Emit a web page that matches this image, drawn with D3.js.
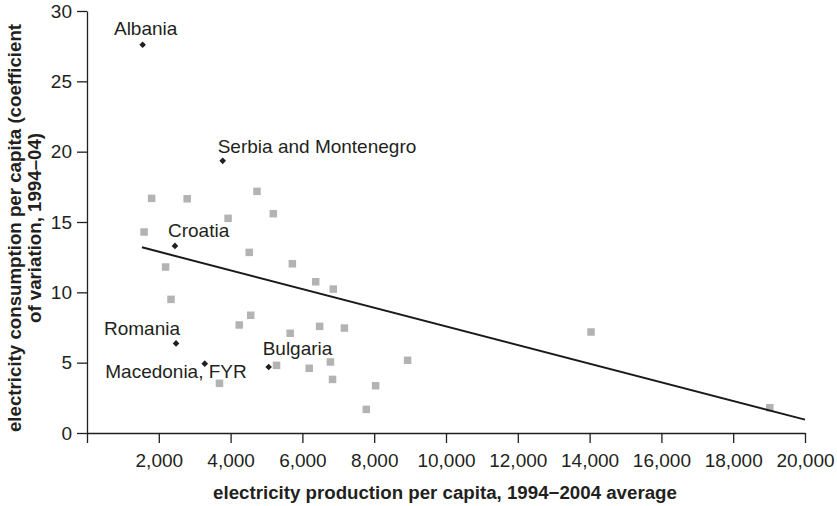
<!DOCTYPE html>
<html>
<head>
<meta charset="utf-8">
<script src="https://cdn.jsdelivr.net/npm/d3@7"></script>
<style>
  body { margin: 0; background: #fff; }
  svg { font-family: "Liberation Sans", Arial, Helvetica, sans-serif; }
  .axis path, .axis line { stroke: #231f20; stroke-width: 1.3; }
  .axis text { font-size: 19px; fill: #231f20; }
  .title { font-size: 18.7px; font-weight: bold; fill: #231f20; }
  .label { font-size: 19px; fill: #231f20; }
  .other { fill: #b3b3b3; }
  .named { fill: #231f20; }
  .trend { stroke: #1a1a1a; stroke-width: 2; fill: none; }
</style>
</head>
<body>
<svg id="chart" width="837" height="506"></svg>
<script>
// labelled countries: production per capita (kWh), consumption CV
var namedCountries = ["Albania", "Serbia and Montenegro", "Croatia", "Romania", "Macedonia, FYR", "Bulgaria"];
var namedProduction = [1550, 3780, 2450, 2480, 3280, 5060];
var namedVariation = [27.6, 19.35, 13.3, 6.37, 4.93, 4.69];

// the other (unlabelled) countries
var otherProduction = [1800, 2790, 4735, 3930, 5190, 1590, 4520, 5720, 6370, 6860,
                       2190, 2340, 4560, 4240, 5660, 6480, 7170, 5280, 6190, 6780,
                       6840, 3690, 8040, 7780, 8930, 14040, 19020];
var otherVariation = [16.68, 16.65, 17.18, 15.26, 15.59, 14.29, 12.84, 12.03, 10.75, 10.23,
                      11.80, 9.50, 8.37, 7.68, 7.09, 7.58, 7.46, 4.81, 4.60, 5.05,
                      3.81, 3.53, 3.36, 1.68, 5.17, 7.18, 1.80];

// fitted line end points
var trendProduction = [1530, 20000];
var trendVariation = [13.2, 0.95];

var xTicks = [0, 2000, 4000, 6000, 8000, 10000, 12000, 14000, 16000, 18000, 20000];
var yTicks = [0, 5, 10, 15, 20, 25, 30];

// where each country name sits relative to its marker
var labelPlacement = {
    "Albania": {dx: 3, dy: -10, anchor: "middle"},
    "Serbia and Montenegro": {dx: -5, dy: -8, anchor: "start"},
    "Croatia": {dx: -7, dy: -9, anchor: "start"},
    "Romania": {dx: 4, dy: -8, anchor: "end"},
    "Macedonia, FYR": {dx: 42, dy: 14, anchor: "end"},
    "Bulgaria": {dx: -6, dy: -12, anchor: "start"}
};

var svg = d3.select("#chart");

var x = d3.scaleLinear().domain([0, 20000]).range([87, 805]);
var y = d3.scaleLinear().domain([0, 30]).range([433, 11]);

// axes
svg.append("g")
    .attr("class", "axis")
    .attr("transform", "translate(0," + y(0) + ")")
    .call(d3.axisBottom(x)
        .tickValues(xTicks)
        .tickSize(10)
        .tickSizeOuter(0)
        .tickPadding(11)
        .tickFormat(function(d) { return d === 0 ? "" : d3.format(",")(d); }));

svg.append("g")
    .attr("class", "axis")
    .attr("transform", "translate(" + x(0) + ",0)")
    .call(d3.axisLeft(y)
        .tickValues(yTicks)
        .tickSize(10)
        .tickSizeOuter(0)
        .tickPadding(5));

svg.selectAll(".axis text").attr("fill", "#231f20");
svg.selectAll(".axis line, .axis path").attr("stroke", "#231f20");

// axis titles
svg.append("text")
    .attr("class", "title")
    .attr("x", 445)
    .attr("y", 499)
    .attr("text-anchor", "middle")
    .text("electricity production per capita, 1994\u22122004 average");

var yTitle = svg.append("text")
    .attr("class", "title")
    .attr("transform", "translate(21,228) rotate(-90)")
    .attr("text-anchor", "middle");
yTitle.append("tspan").attr("x", 0).attr("y", 0)
    .text("electricity consumption per capita (coefficient");
yTitle.append("tspan").attr("x", 0).attr("y", 20)
    .text("of variation, 1994\u201304)");

// grey squares
var side = 7.5;
svg.append("g").selectAll("rect")
    .data(d3.range(otherProduction.length))
    .enter()
    .append("rect")
    .attr("class", "other")
    .attr("x", function(i) { return x(otherProduction[i]) - side / 2; })
    .attr("y", function(i) { return y(otherVariation[i]) - side / 2; })
    .attr("width", side)
    .attr("height", side);

// trend line
svg.append("line")
    .attr("class", "trend")
    .attr("x1", x(trendProduction[0]))
    .attr("y1", y(trendVariation[0]))
    .attr("x2", x(trendProduction[1]))
    .attr("y2", y(trendVariation[1]));

// labelled diamonds
var diamond = d3.symbol().type(d3.symbolSquare).size(22);
var named = svg.append("g").selectAll("g")
    .data(d3.range(namedCountries.length))
    .enter()
    .append("g")
    .attr("transform", function(i) {
        return "translate(" + x(namedProduction[i]) + "," + y(namedVariation[i]) + ")";
    });

named.append("path")
    .attr("class", "named")
    .attr("transform", "rotate(45)")
    .attr("d", diamond);

named.append("text")
    .attr("class", "label")
    .attr("x", function(i) { return labelPlacement[namedCountries[i]].dx; })
    .attr("y", function(i) { return labelPlacement[namedCountries[i]].dy; })
    .attr("text-anchor", function(i) { return labelPlacement[namedCountries[i]].anchor; })
    .text(function(i) { return namedCountries[i]; });
</script>
</body>
</html>
